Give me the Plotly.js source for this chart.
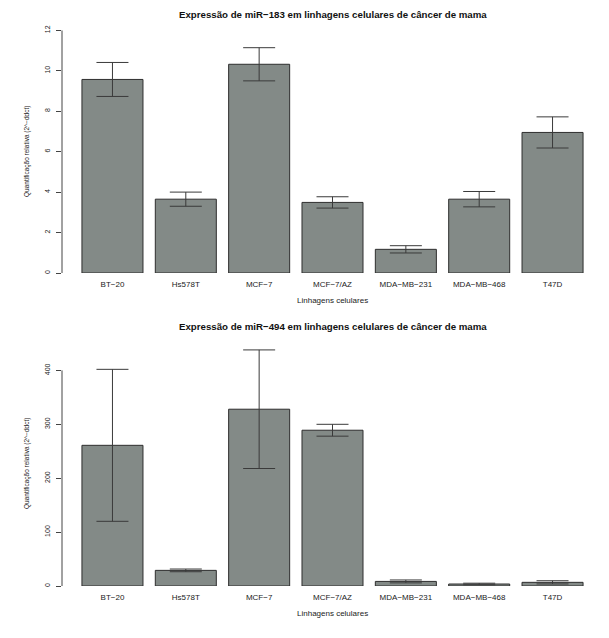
<!DOCTYPE html>
<html>
<head>
<meta charset="utf-8">
<script src="https://cdn.plot.ly/plotly-3.0.1.min.js"></script>
<style>
  html, body { margin: 0; padding: 0; background: #ffffff; }
  #chart { width: 609px; height: 638px; }
</style>
</head>
<body>
<div id="chart"></div>
<script>
// ---- Data ----
const categories = ['BT\u221220', 'Hs578T', 'MCF\u22127', 'MCF\u22127/AZ', 'MDA\u2212MB\u2212231', 'MDA\u2212MB\u2212468', 'T47D'];
const mir183 = [9.57, 3.65, 10.32, 3.49, 1.17, 3.65, 6.95];
const mir183Err = [0.84, 0.35, 0.82, 0.28, 0.18, 0.38, 0.77];
const mir494 = [261, 29, 328, 289, 8.5, 3.7, 6.8];
const mir494Err = [141, 2.5, 110, 11, 2.7, 1.5, 3];
const ticks183 = [0, 2, 4, 6, 8, 10, 12];
const ticks494 = [0, 100, 200, 300, 400];
const title183 = 'Express\u00e3o de miR\u2212183 em linhagens celulares de c\u00e2ncer de mama';
const title494 = 'Express\u00e3o de miR\u2212494 em linhagens celulares de c\u00e2ncer de mama';
const xTitle = 'Linhagens celulares';
const yTitle = 'Quantifica\u00e7\u00e3o relativa (2^\u2212ddct)';

// ---- Styles ----
const H = 638;
const FONT = 'Liberation Sans, Arial, Helvetica, sans-serif';
const barColor = '#838a87';
const edgeColor = '#2e2e2e';
const errColor = '#3a3a3a';
const py = px => 1 - px / H;

function barTrace(vals, errs, xa, ya) {
  return {
    type: 'bar', x: categories, y: vals, xaxis: xa, yaxis: ya,
    marker: { color: barColor, line: { color: edgeColor, width: 1 } },
    error_y: { type: 'data', array: errs, visible: true, color: errColor, thickness: 1, width: 16 },
    hoverinfo: 'skip', showlegend: false
  };
}

const data = [
  barTrace(mir183, mir183Err, 'x', 'y'),
  barTrace(mir494, mir494Err, 'x2', 'y2')
];

const xCommon = {
  type: 'category', range: [-0.688, 6.688], showgrid: false, zeroline: false,
  showline: false, ticks: '', tickfont: { family: FONT, size: 8, color: '#222' },
  ticklabelstandoff: 5
};
const yCommon = {
  showgrid: false, zeroline: false, showline: false, ticks: 'outside', ticklen: 5,
  tickwidth: 1, tickcolor: '#444', tickangle: -90, tickmode: 'array',
  tickfont: { family: FONT, size: 7, color: '#222' }, ticklabelstandoff: 3
};

const layout = {
  width: 609, height: 638,
  margin: { l: 62, r: 6, t: 0, b: 0, pad: 0 },
  paper_bgcolor: '#ffffff', plot_bgcolor: '#ffffff',
  bargap: 0.168,
  xaxis: Object.assign({}, xCommon, { domain: [0, 1], anchor: 'y' }),
  yaxis: Object.assign({}, yCommon, { domain: [py(273), py(30.3)], range: [0, 12], tickvals: ticks183, anchor: 'x' }),
  xaxis2: Object.assign({}, xCommon, { domain: [0, 1], anchor: 'y2' }),
  yaxis2: Object.assign({}, yCommon, { domain: [py(586), py(342)], range: [0, 452.7], tickvals: ticks494, anchor: 'x2' }),
  shapes: [
    { type: 'line', xref: 'x domain', yref: 'y', x0: 0, x1: 0, y0: ticks183[0], y1: ticks183[ticks183.length - 1], line: { color: '#444', width: 1 } },
    { type: 'line', xref: 'x2 domain', yref: 'y2', x0: 0, x1: 0, y0: ticks494[0], y1: ticks494[ticks494.length - 1], line: { color: '#444', width: 1 } }
  ],
  annotations: [
    { text: '<b>' + title183 + '</b>', xref: 'paper', yref: 'paper', x: 0.5, y: py(15), xanchor: 'center', yanchor: 'middle', showarrow: false, font: { family: FONT, size: 9.7, color: '#111' } },
    { text: '<b>' + title494 + '</b>', xref: 'paper', yref: 'paper', x: 0.5, y: py(327), xanchor: 'center', yanchor: 'middle', showarrow: false, font: { family: FONT, size: 9.7, color: '#111' } },
    { text: xTitle, xref: 'paper', yref: 'paper', x: 0.5, y: py(300), xanchor: 'center', yanchor: 'middle', showarrow: false, font: { family: FONT, size: 8, color: '#222' } },
    { text: xTitle, xref: 'paper', yref: 'paper', x: 0.5, y: py(613), xanchor: 'center', yanchor: 'middle', showarrow: false, font: { family: FONT, size: 8, color: '#222' } },
    { text: yTitle, xref: 'paper', yref: 'paper', x: (27 - 62) / 541, y: py(152), xanchor: 'center', yanchor: 'middle', textangle: -90, showarrow: false, font: { family: FONT, size: 6.5, color: '#222' } },
    { text: yTitle, xref: 'paper', yref: 'paper', x: (27 - 62) / 541, y: py(464), xanchor: 'center', yanchor: 'middle', textangle: -90, showarrow: false, font: { family: FONT, size: 6.5, color: '#222' } }
  ]
};

Plotly.newPlot('chart', data, layout, { staticPlot: true, displayModeBar: false });
</script>
</body>
</html>
